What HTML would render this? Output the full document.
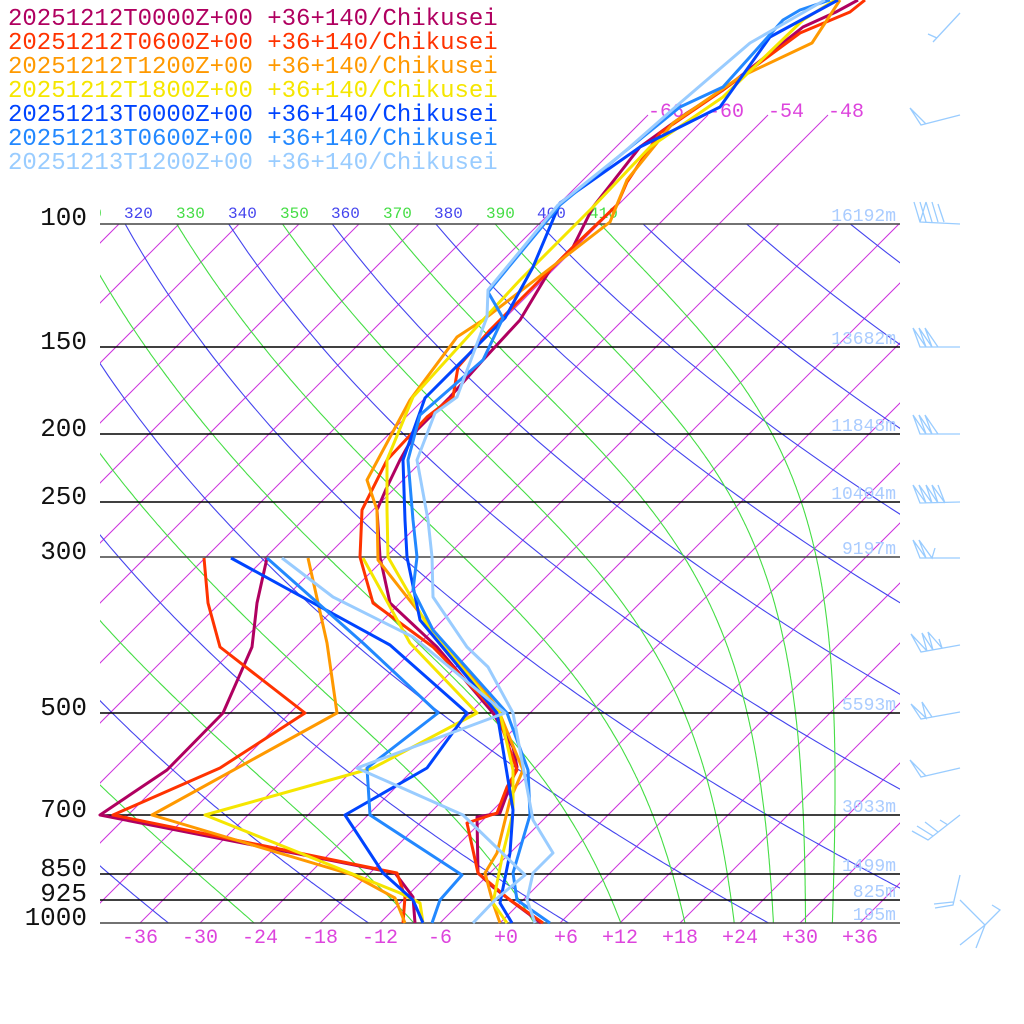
<!DOCTYPE html>
<html><head><meta charset="utf-8"><style>
html,body{margin:0;padding:0;background:#fff;}
svg{display:block;}
text{font-family:"Liberation Mono",monospace;}
</style></head><body>
<svg id="s" width="1024" height="1024" viewBox="0 0 1024 1024" xmlns="http://www.w3.org/2000/svg">
<defs>
<clipPath id="cA"><rect x="100" y="224" width="800" height="699"/></clipPath>
<clipPath id="cI"><rect x="100" y="0" width="800" height="923"/></clipPath>
<clipPath id="cL"><rect x="100" y="190" width="800" height="40"/></clipPath>
</defs>
<g id="iso" clip-path="url(#cI)" stroke="#cc33dd" stroke-width="1" fill="none"></g>
<g id="adi" clip-path="url(#cA)" fill="none" stroke-width="1.1"></g>
<g id="thl" clip-path="url(#cL)" font-size="16">
<text x="73" y="218" fill="#44dd44">310</text>
<text x="124" y="218" fill="#4444ee">320</text>
<text x="176" y="218" fill="#44dd44">330</text>
<text x="228" y="218" fill="#4444ee">340</text>
<text x="280" y="218" fill="#44dd44">350</text>
<text x="331" y="218" fill="#4444ee">360</text>
<text x="383" y="218" fill="#44dd44">370</text>
<text x="434" y="218" fill="#4444ee">380</text>
<text x="486" y="218" fill="#44dd44">390</text>
<text x="537" y="218" fill="#4444ee">400</text>
<text x="589" y="218" fill="#44dd44">410</text>
</g>
<g font-size="20" fill="#dd44dd">
<text x="648" y="117">-66</text><text x="708" y="117">-60</text><text x="768" y="117">-54</text><text x="828" y="117">-48</text>
</g>
<g stroke="#000" stroke-width="1.5">
<line x1="100" x2="900" y1="224" y2="224" stroke="#444"/>
<line x1="100" x2="900" y1="347" y2="347"/>
<line x1="100" x2="900" y1="434" y2="434"/>
<line x1="100" x2="900" y1="502" y2="502"/>
<line x1="100" x2="900" y1="557" y2="557" stroke="#444"/>
<line x1="100" x2="900" y1="713" y2="713"/>
<line x1="100" x2="900" y1="815" y2="815"/>
<line x1="100" x2="900" y1="874" y2="874"/>
<line x1="100" x2="900" y1="900" y2="900"/>
<line x1="100" x2="900" y1="923" y2="923" stroke="#444"/>
</g>
<g font-size="26" fill="#111" text-anchor="end">
<text x="87" y="225">100</text><text x="87" y="349">150</text><text x="87" y="436">200</text>
<text x="87" y="504">250</text><text x="87" y="559">300</text><text x="87" y="715">500</text>
<text x="87" y="817">700</text><text x="87" y="876">850</text><text x="87" y="901">925</text>
<text x="87" y="925">1000</text>
</g>
<g font-size="18" fill="#aaccff" text-anchor="end">
<text x="896" y="221">16192m</text><text x="896" y="344">13682m</text><text x="896" y="431">11848m</text>
<text x="896" y="499">10404m</text><text x="896" y="554">9197m</text><text x="896" y="710">5593m</text>
<text x="896" y="812">3033m</text><text x="896" y="871">1499m</text><text x="896" y="897">825m</text>
<text x="896" y="920">195m</text>
</g>
<g font-size="20" fill="#dd44dd" text-anchor="middle">
<text x="140" y="943">-36</text><text x="200" y="943">-30</text><text x="260" y="943">-24</text>
<text x="320" y="943">-18</text><text x="380" y="943">-12</text><text x="440" y="943">-6</text>
<text x="506" y="943">+0</text><text x="566" y="943">+6</text><text x="620" y="943">+12</text>
<text x="680" y="943">+18</text><text x="740" y="943">+24</text><text x="800" y="943">+30</text>
<text x="860" y="943">+36</text>
</g>
<g fill="none" stroke-width="3" stroke-linejoin="round">
<g stroke="#b00060">
<polyline points="858,0 836,12 803,27 723,90 687,113 640,147 593,207 573,247 550,270 520,320 483,360 450,397 417,430 400,460 387,487 377,510 380,557 390,603 437,647 493,713 513,747 517,767 500,813 477,817 478,873 493,887 510,900 537,920 541,923"/>
<polyline points="267,558 257,603 252,647 223,713 167,770 100,815 395,873 413,897 415,923"/>
</g>
<g stroke="#ff3300">
<polyline points="865,0 850,12 800,33 723,90 660,133 627,182 617,205 573,247 527,293 490,330 458,367 453,397 427,417 387,460 362,510 360,557 373,603 433,647 497,713 517,770 507,787 497,813 467,823 478,873 510,900 543,923"/>
<polyline points="204,558 208,603 220,647 305,713 220,768 113,815 397,873 405,897 403,923"/>
</g>
<g stroke="#ff9900">
<polyline points="840,0 812,43 740,77 673,123 627,180 610,222 557,263 483,320 457,337 410,400 367,480 377,510 378,560 433,630 497,707 523,770 510,800 497,853 485,873 493,903 500,923"/>
<polyline points="308,558 327,643 337,713 152,815 353,875 395,898 405,923"/>
</g>
<g stroke="#f5e600">
<polyline points="835,0 803,20 723,97 650,147 593,207 520,280 483,320 413,397 387,460 387,510 388,557 430,630 500,713 513,770 513,813 503,853 493,903 507,923"/>
<polyline points="363,558 410,643 477,713 373,768 205,815 400,893 420,903 423,923"/>
</g>
<g stroke="#0044ff">
<polyline points="838,0 770,37 720,107 640,147 560,203 533,267 505,318 473,350 425,398 403,460 405,520 407,557 420,620 497,713 513,810 510,853 500,903 512,923"/>
<polyline points="231,558 390,645 467,713 427,768 345,815 383,873 413,900 423,923"/>
</g>
<g stroke="#2288ff">
<polyline points="830,0 800,10 783,20 723,87 680,107 623,153 560,205 488,292 503,318 483,360 420,415 408,460 413,520 417,557 413,590 433,630 507,713 528,770 530,815 513,873 517,900 550,923"/>
<polyline points="267,558 363,643 438,713 367,768 370,815 462,875 440,900 432,923"/>
</g>
<g stroke="#99ccff">
<polyline points="825,0 750,43 680,103 623,153 558,205 488,290 487,317 457,397 435,413 417,460 428,520 432,557 433,597 467,647 488,667 513,713 533,820 553,853 533,873 527,900 535,923"/>
<polyline points="282,558 333,597 413,637 505,713 357,768 463,815 525,875 495,900 473,923"/>
</g>
</g>
<g fill="none" stroke="#99ccff" stroke-width="1.3">
<path d="M960,13 L933,42 M928,34 L937,38"/>
<path d="M960,115 L921,125 L910,108 L926,124"/>
<path d="M960,224 L920,222 L914,202 M926,222 L920,202 M932,222 L926,202 M938,222 L932,202 M944,222 L938,204 M920,222 L926,202"/>
<path d="M960,347 L920,347 L913,328 L926,347 L919,328 L932,347 L925,328 L938,347"/>
<path d="M960,434 L920,434 L913,415 L926,434 L919,415 L932,434 L925,415 L938,434"/>
<path d="M960,502 L920,503 L913,485 L926,503 L919,485 L932,503 L926,485 L938,503 L932,485 L945,503 L938,485"/>
<path d="M960,558 L920,558 L913,540 L926,558 L919,540 L932,558 L935,548"/>
<path d="M960,645 L921,652 L911,634 L927,651 L922,633 L933,650 L928,632 L942,648 L939,639"/>
<path d="M960,712 L921,719 L911,704 L926,718 L922,702 L932,717"/>
<path d="M960,768 L921,777 L910,760 L926,776"/>
<path d="M960,815 L928,840 L912,831 M933,836 L917,826 M938,832 L925,822 M948,825 L940,820"/>
<path d="M960,875 L953,905 L935,908 M953,902 L934,904 M960,900 L985,925 L976,948 M985,925 L1000,910 L992,905 M985,925 L960,945"/>
</g>
<g font-size="24">
<text x="8" y="25" fill="#b00060">20251212T0000Z+00 +36+140/Chikusei</text>
<text x="8" y="49" fill="#ff3300">20251212T0600Z+00 +36+140/Chikusei</text>
<text x="8" y="73" fill="#ff9900">20251212T1200Z+00 +36+140/Chikusei</text>
<text x="8" y="97" fill="#f5e600">20251212T1800Z+00 +36+140/Chikusei</text>
<text x="8" y="121" fill="#0044ff">20251213T0000Z+00 +36+140/Chikusei</text>
<text x="8" y="145" fill="#2288ff">20251213T0600Z+00 +36+140/Chikusei</text>
<text x="8" y="169" fill="#99ccff">20251213T1200Z+00 +36+140/Chikusei</text>
</g>
</svg>
<script>
(function(){
var NS="http://www.w3.org/2000/svg";
function Y(p){return 923-303.6*Math.log(1000/p);}
function X(T,y){return 500+10*T+(923-y);}
function add(g,pts,col){var e=document.createElementNS(NS,"polyline");e.setAttribute("points",pts.map(function(a){return a[0].toFixed(1)+","+a[1].toFixed(1);}).join(" "));if(col)e.setAttribute("stroke",col);g.appendChild(e);}
var iso=document.getElementById("iso");
for(var T=-150;T<=50;T+=6){var yt=(T>=-66&&T<=-48)?115:224;add(iso,[[X(T,923),923],[X(T,yt),yt]]);}
var adi=document.getElementById("adi");
for(var th=200;th<=520;th+=20){var pts=[];for(var p=1000;p>=99;p-=5){var y=Y(p);var T=th*Math.pow(p/1000,0.2857)-273.15;pts.push([X(T,y),y]);}add(adi,pts,"#4444ee");}
function es(Tc){return 6.112*Math.exp(17.67*Tc/(Tc+243.5));}
function the(Tc){var Tk=Tc+273.15,e=es(Tc),r=622*e/(1000-e);return Tk*Math.exp((3.376/Tk-0.00254)*r*(1+0.00081*r));}
for(var t=190;t<=410;t+=20){var lo=-80,hi=45;for(var i=0;i<60;i++){var m=(lo+hi)/2;if(the(m)<t)lo=m;else hi=m;}
var Tk=(lo+hi)/2+273.15,lp=Math.log(1000),pts=[],Rd=287,cp=1005,Lv=2.5e6,eps=0.622;
while(lp>Math.log(99)){var p=Math.exp(lp),y=Y(p);pts.push([X(Tk-273.15,y),y]);
var e=es(Tk-273.15),rs=eps*e/Math.max(p-e,1);var d=(Rd*Tk+Lv*rs)/(cp+Lv*Lv*rs*eps/(Rd*Tk*Tk));var dl=-0.005;Tk+=d*dl;lp+=dl;}
add(adi,pts,"#44dd44");}
})();
</script>
</body></html>
